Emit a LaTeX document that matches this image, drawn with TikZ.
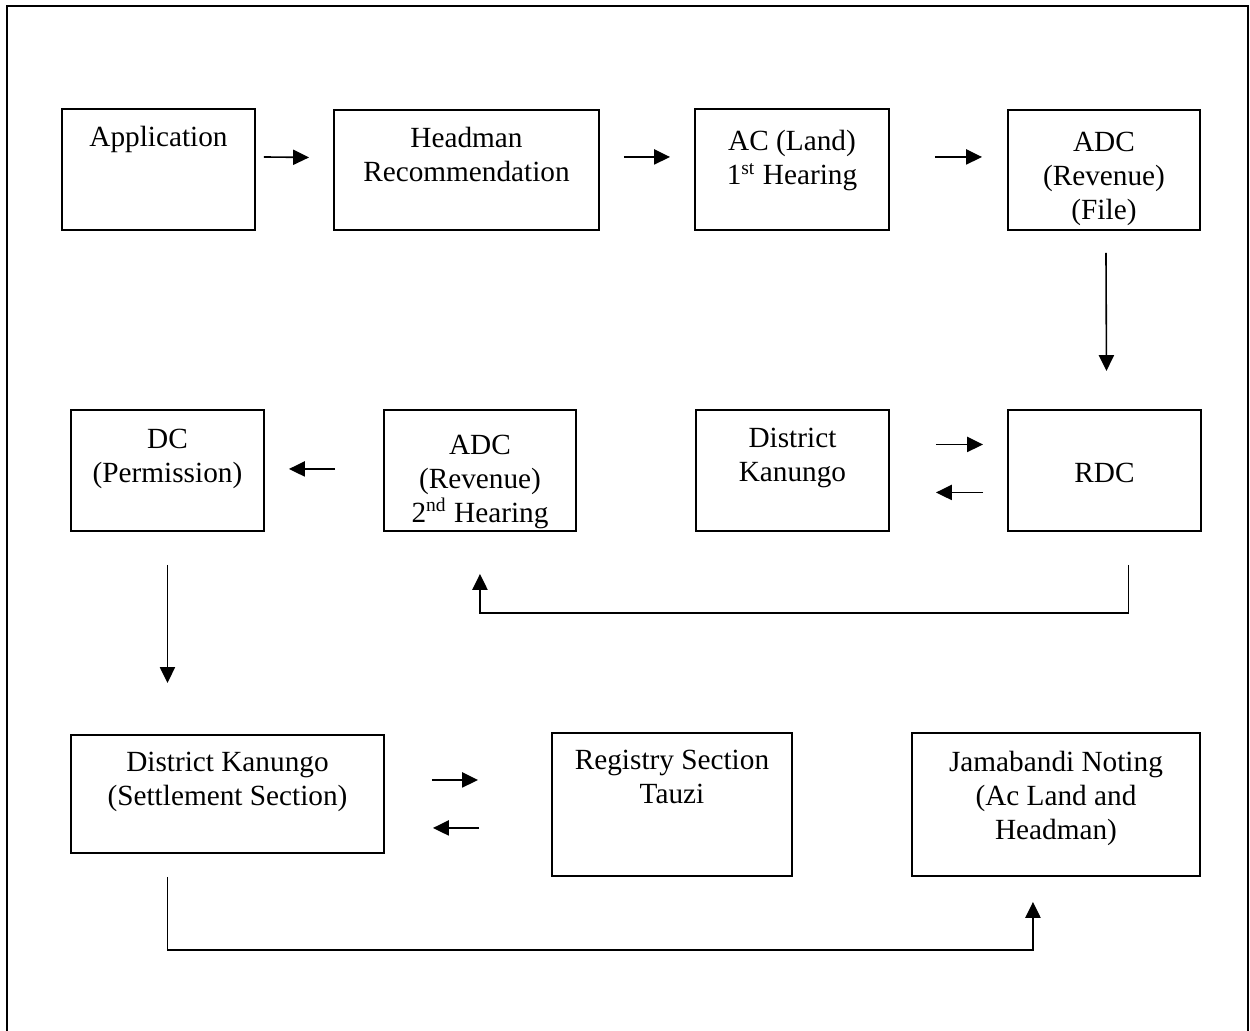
\documentclass[tikz,border=0pt]{standalone}
\usepackage{fontspec}
\setmainfont{Liberation Serif}
\usetikzlibrary{arrows.meta}

\newdimen\px \px=0.41pt
% box text: width, height, first baseline, lines
\newcommand{\boxtext}[4]{\parbox[c][#2\px][t]{#1\px}{\centering\rule{0pt}{#3\px}#4}}

\begin{document}
\begin{tikzpicture}[x=0.41pt,y=-0.41pt,font=\fontsize{12pt}{13.8pt}\selectfont,
  stage/.style={draw,line width=0.8pt,inner sep=0pt,anchor=north west},
  flow/.style={-{Triangle[length=6.5pt,width=6.2pt]},line width=0.65pt}]
  \useasboundingbox (0,0) rectangle (1250,1031);
  \draw[line width=0.9pt] (7,1060) -- (7,6) -- (1248,6) -- (1248,1060);

  % first row
  \node[stage] (app)  at (61,108)   {\boxtext{193}{121}{38}{Application}};
  \node[stage] (head) at (333,109)  {\boxtext{265}{120}{38}{Headman\\Recommendation}};
  \node[stage] (ac)   at (694,108)  {\boxtext{194}{121}{42}{AC (Land)\\1\textsuperscript{st} Hearing}};
  \node[stage] (adcf) at (1007,109) {\boxtext{192}{120}{42}{ADC\\(Revenue)\\(File)}};
  % second row
  \node[stage] (dc)   at (70,409)   {\boxtext{193}{121}{39}{DC\\(Permission)}};
  \node[stage] (adc2) at (383,409)  {\boxtext{192}{121}{45}{ADC\\(Revenue)\\2\textsuperscript{nd} Hearing}};
  \node[stage] (dk)   at (695,409)  {\boxtext{193}{121}{38}{District\\Kanungo}};
  \node[stage] (rdc)  at (1007,409) {\boxtext{193}{121}{73}{RDC}};
  % third row
  \node[stage] (dks)  at (70,734)   {\boxtext{313}{118}{37}{District Kanungo\\(Settlement Section)}};
  \node[stage] (reg)  at (551,732)  {\boxtext{240}{143}{37}{Registry Section\\Tauzi}};
  \node[stage] (jam)  at (911,732)  {\boxtext{288}{143}{39}{Jamabandi Noting\\(Ac Land and\\Headman)}};

  \path[flow]
    ([xshift=8\px,yshift=12.5\px]app.east) edge ([xshift=-24\px,yshift=12.5\px]head.west)
    ([xshift=24\px,yshift=13\px]head.east) edge ([xshift=-24\px,yshift=12.5\px]ac.west)
    ([xshift=45\px,yshift=12.5\px]ac.east) edge ([xshift=-25\px,yshift=13\px]adcf.west)
    ([xshift=2\px,yshift=-22\px]adcf.south) edge ([xshift=2\px,yshift=38\px]rdc.north)
    ([xshift=46\px,yshift=26\px]dk.east) edge ([xshift=-24\px,yshift=26\px]rdc.west)
    ([xshift=-24\px,yshift=-22\px]rdc.west) edge ([xshift=46\px,yshift=-22\px]dk.east)
    ([xshift=-48\px,yshift=1.5\px]adc2.west) edge ([xshift=24\px,yshift=1.5\px]dc.east)
    ([yshift=-33\px]dc.south) edge ([yshift=51\px]dc.south |- dks.north)
    ([xshift=47\px,yshift=14\px]dks.east) edge ([xshift=-73\px,yshift=24.5\px]reg.west)
    ([xshift=-72\px,yshift=-23.5\px]reg.west) edge ([xshift=48\px,yshift=-34\px]dks.east);
  \draw[flow] ([xshift=24\px,yshift=-33\px]rdc.south) -- ++(0,48) -| ([yshift=-42\px]adc2.south);
  \draw[flow] ([xshift=-60\px,yshift=-23\px]dks.south) -- ++(0,73) -| ([xshift=-23\px,yshift=-25\px]jam.south);
\end{tikzpicture}
\end{document}
